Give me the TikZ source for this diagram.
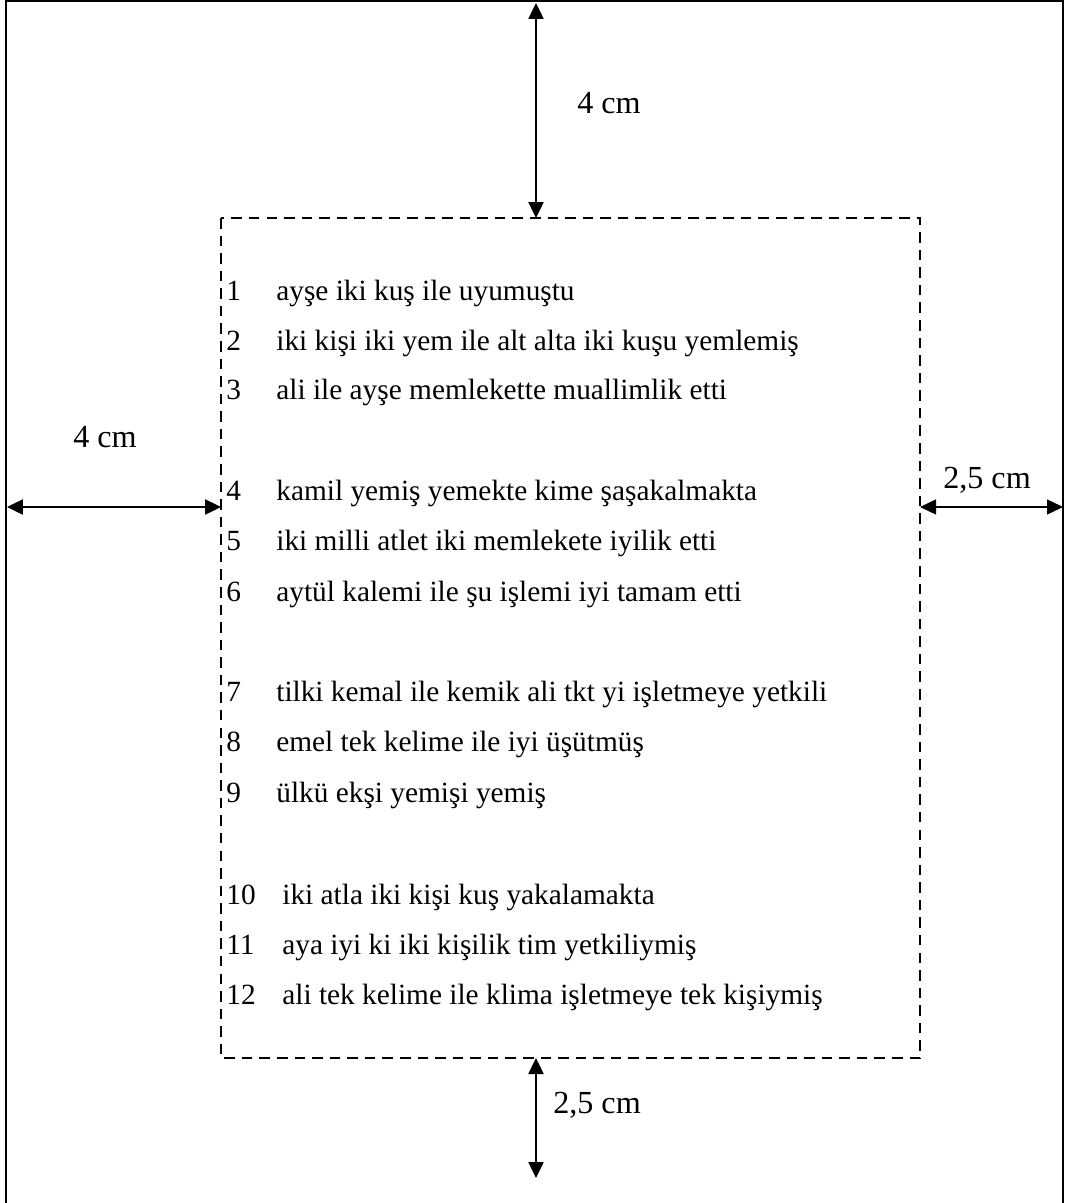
\documentclass[tikz,border=0pt]{standalone}
\usepackage{fontspec}
\setmainfont{Liberation Serif}
\usetikzlibrary{arrows.meta}

\begin{document}
\begin{tikzpicture}[x=0.02cm,y=-0.02cm,
	olcu/.style={line width=1.4pt,{Triangle[length=0.32cm,width=0.3cm]}-{Triangle[length=0.32cm,width=0.3cm]}},
	etiket/.style={font=\fontsize{18.3}{21}\selectfont,inner sep=0pt},
	satir/.style={font=\fontsize{16.7}{20}\selectfont,inner sep=0pt,anchor=base west}]
	\useasboundingbox (0,0) rectangle (1065,1203);
	% sayfa kenari (alt kenar yok)
	\draw [line width=1.2pt] (6,1203) -- (6,1) -- (1063,1) -- (1063,1203);
	% yazi alani
	\coordinate (alanUL) at (221,218);
	\coordinate (alanLR) at (920,1058);
	\draw [dashed,line width=0.8pt,dash pattern=on 6pt off 4pt] (alanUL) rectangle (alanLR);
	
	\coordinate (ustA) at (536,3);
	\coordinate (ustB) at (536,218);
	\coordinate (solA) at (7,507);
	\coordinate (solB) at (221,507);
	\coordinate (sagA) at (920,507);
	\coordinate (sagB) at (1063,507);
	\coordinate (altA) at (536,1058);
	\coordinate (altB) at (536,1178);
	
	\draw [olcu] (ustA) -- (ustB);
	\draw [olcu] (solA) -- (solB);
	\draw [olcu,line width=0.8pt] (sagA) -- (sagB);
	\draw [olcu] (altA) -- (altB);
	
	\node [etiket] (lblUst) at (609,103) {4 cm};
	\node [etiket] (lblSol) at (105,437) {4 cm};
	\node [etiket] (lblSag) at (987,480) {2,5 cm};
	\node [etiket] (lblAlt) at (597,1105) {2,5 cm};
	
	\foreach \n/\yy/\xx/\sat in {1/300/276/ayşe iki kuş ile uyumuştu,
		2/350/276/iki kişi iki yem ile alt alta iki kuşu yemlemiş,
		3/399/276/ali ile ayşe memlekette muallimlik etti,
		4/500/276/kamil yemiş yemekte kime şaşakalmakta,
		5/550/276/iki milli atlet iki memlekete iyilik etti,
		6/601/276/aytül kalemi ile şu işlemi iyi tamam etti,
		7/701/276/tilki kemal ile kemik ali tkt yi işletmeye yetkili,
		8/751/276/emel tek kelime ile iyi üşütmüş,
		9/802/276/ülkü ekşi yemişi yemiş,
		10/904/282/iki atla iki kişi kuş yakalamakta,
		11/954/282/aya iyi ki iki kişilik tim yetkiliymiş,
		12/1004/282/ali tek kelime ile klima işletmeye tek kişiymiş} {
		\node [satir] (num\n) at (226,\yy) {\n};
		\node [satir] (sat\n) at (\xx,\yy) {\sat};
	}
\end{tikzpicture}
\end{document}
